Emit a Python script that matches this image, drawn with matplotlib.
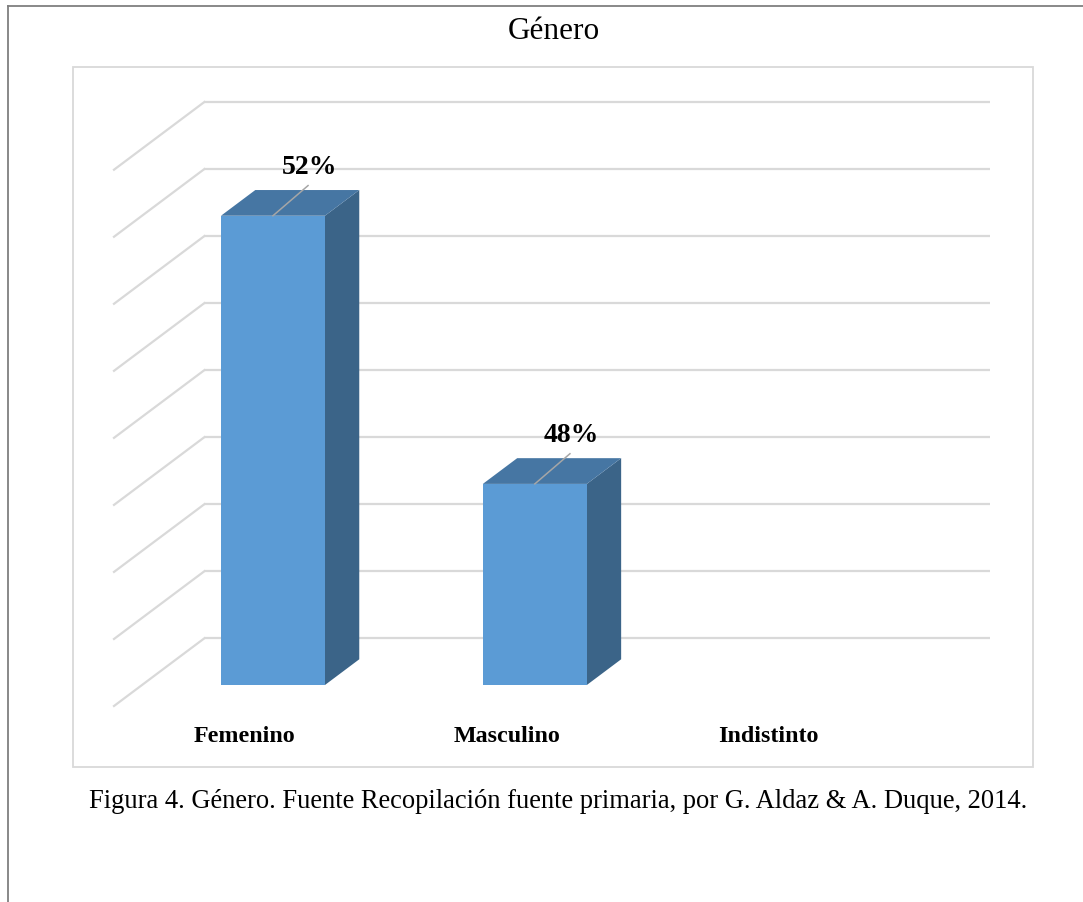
import matplotlib.pyplot as plt
from matplotlib.patches import Polygon

plt.rcParams['font.family'] = ['Liberation Serif', 'DejaVu Serif']

# Datos
categorias = ['Femenino', 'Masculino', 'Indistinto']
porcentajes = [52, 48, None]
etiquetas = ['52%', '48%', '']
niveles = [45, 46, 47, 48, 49, 50, 51, 52, 53]

# Colores estilo Excel
frente = '#5B9BD5'
techo = '#4676A3'
lado = '#3B6488'
rejilla = '#D9D9D9'

# Desplazamiento de profundidad (fondo -> frente) para el efecto 3D
dx, dy = -0.345, -1.01
d0, d1 = 0.31, 0.69  # profundidad de las barras
w = 0.1985
base = niveles[0]

W, H = 1083, 902
fig = plt.figure(figsize=(W / 100, H / 100), dpi=100)

# Marco exterior y área del gráfico
fig.add_artist(plt.Line2D([8 / W, 8 / W], [0, 1 - 6 / H], color='#7F7F7F', lw=1.3))
fig.add_artist(plt.Line2D([8 / W, 1], [1 - 6 / H, 1 - 6 / H], color='#7F7F7F', lw=1.3))
fig.add_artist(plt.Rectangle((73 / W, 1 - 767 / H), 960 / W, 700 / H,
                             fill=False, ec=rejilla, lw=1.3))

ax = fig.add_axes([114 / W, 1 - 706 / H, 876 / W, 604 / H])
ax.set_xlim(-0.5 + dx, 2.5)
ax.set_ylim(base + dy, niveles[-1])
ax.axis('off')

# Líneas de la pared del fondo y de la pared lateral
for v in niveles:
    ax.plot([-0.5, 2.5], [v, v], color=rejilla, lw=1.6, zorder=1,
            solid_capstyle='butt', clip_on=False)
    ax.plot([-0.5, -0.5 + dx], [v, v + dy], color=rejilla, lw=1.6, zorder=1,
            clip_on=False)


def punto(x, y, d):
    return (x + dx * d, y + dy * d)


for i, (cat, val, txt) in enumerate(zip(categorias, porcentajes, etiquetas)):
    xl, xr = i - w, i + w
    # nombre de la categoría al borde frontal del piso
    ax.text(i + dx, base + dy - 0.54, cat, ha='center', va='baseline',
            fontsize=17.3, fontweight='bold', clip_on=False)
    if val is None:
        continue
    cara = [punto(xl, base, d1), punto(xr, base, d1), punto(xr, val, d1), punto(xl, val, d1)]
    arriba = [punto(xl, val, d1), punto(xr, val, d1), punto(xr, val, d0), punto(xl, val, d0)]
    costado = [punto(xr, val, d1), punto(xr, val, d0), punto(xr, base, d0), punto(xr, base, d1)]
    ax.add_patch(Polygon(costado, closed=True, fc=lado, ec='none', zorder=3))
    ax.add_patch(Polygon(arriba, closed=True, fc=techo, ec='none', zorder=3))
    ax.add_patch(Polygon(cara, closed=True, fc=frente, ec='none', zorder=4))

    # etiqueta de valor con línea guía
    x0, y0 = punto(i, val, d1)
    ax.plot([x0, x0 + 0.134], [y0, y0 + 0.45], color='#A6A6A6', lw=1.1, zorder=5)
    ax.text(x0 + 0.141, y0 + 0.72, txt, ha='center', va='center',
            fontsize=20, fontweight='bold', zorder=6)

fig.text(554 / W, 1 - 39 / H, 'Género', ha='center', va='baseline', fontsize=22.5)
fig.text(558 / W, 1 - 808 / H,
         'Figura 4. Género. Fuente Recopilación fuente primaria, por G. Aldaz & A. Duque, 2014.',
         ha='center', va='baseline', fontsize=19.1)

fig.savefig('out.png', dpi=100)
